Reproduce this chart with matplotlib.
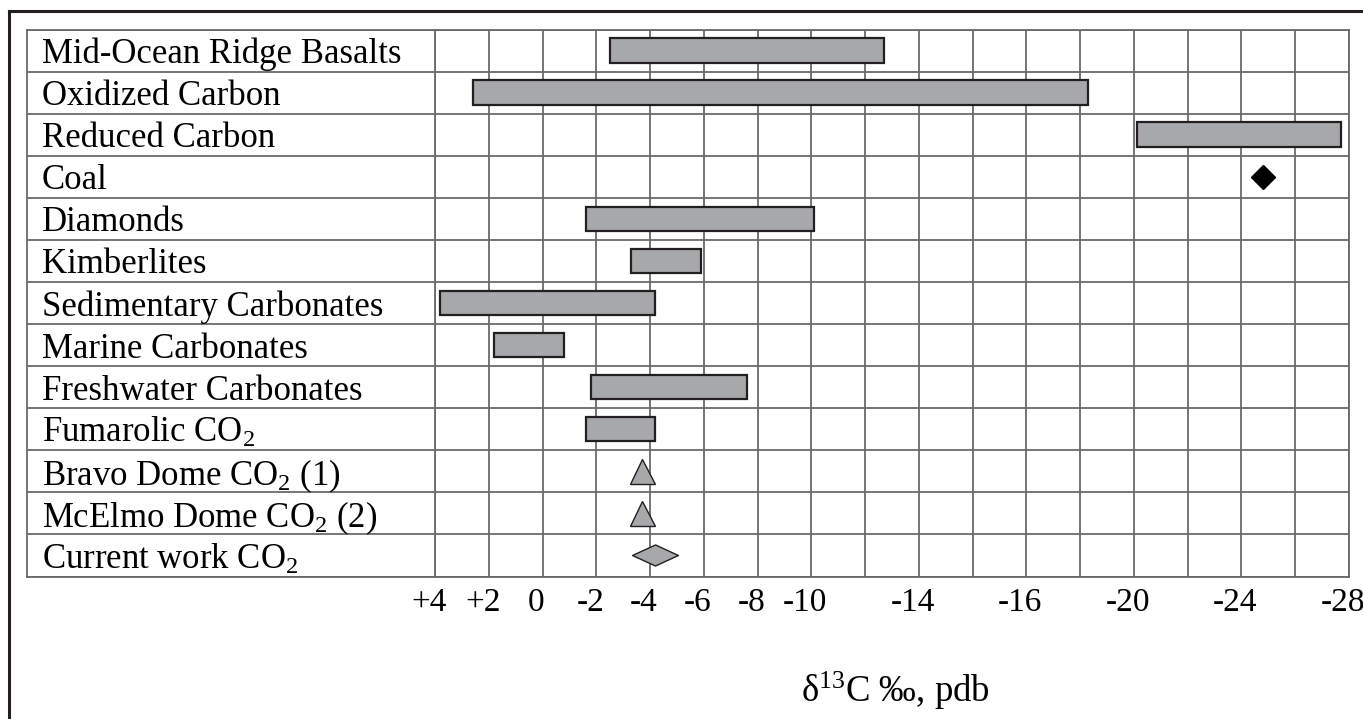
import numpy as np
import matplotlib
matplotlib.use("Agg")
import matplotlib.pyplot as plt
from matplotlib.lines import Line2D
from matplotlib.path import Path
import matplotlib.transforms as mtransforms

plt.rcParams['font.family'] = ['Liberation Serif', 'DejaVu Serif']
plt.rcParams['mathtext.fontset'] = 'custom'
plt.rcParams['mathtext.rm'] = 'Liberation Serif'

# ---------------- data ----------------
categories = [
    "Mid-Ocean Ridge Basalts",
    "Oxidized Carbon",
    "Reduced Carbon",
    "Coal",
    "Diamonds",
    "Kimberlites",
    "Sedimentary Carbonates",
    "Marine Carbonates",
    "Freshwater Carbonates",
    r"Fumarolic CO$\mathregular{_2}$",
    r"Bravo Dome CO$\mathregular{_2}$ (1)",
    r"McElmo Dome CO$\mathregular{_2}$ (2)",
    r"Current work CO$\mathregular{_2}$",
]
# ranges (delta13C, permil) ; nan = no range bar
range_start = [-2.5, 2.6, -20.1, np.nan, -1.6, -3.3, 3.8, 1.8, -1.8, -1.6, np.nan, np.nan, np.nan]
range_end = [-12.7, -18.3, -27.7, np.nan, -10.1, -5.9, -4.2, -0.8, -7.6, -4.2, np.nan, np.nan, np.nan]
coal_value = -24.8
bravo_value = -3.7
mcelmo_value = -3.7
current_value = -4.2

tick_values = [4, 2, 0, -2, -4, -6, -8, -10, -14, -16, -20, -24, -28]
tick_labels = ["+4", "+2", "0", "-2", "-4", "-6", "-8", "-10", "-14", "-16", "-20", "-24", "-28"]
tick_slots = [0, 1, 2, 3, 4, 5, 6, 7, 9, 11, 13, 15, 17]   # grid column where each label sits
n_columns = 17

# ---------------- piecewise scale (as printed on the original axis) ----------------
_xp = -np.array(tick_values, dtype=float)
_fp = np.array(tick_slots, dtype=float)


def _lin(x, xp, fp):
    x = np.asarray(x, dtype=float)
    y = np.interp(x, xp, fp)
    y = np.where(x < xp[0], fp[0] + (x - xp[0]) * (fp[1] - fp[0]) / (xp[1] - xp[0]), y)
    y = np.where(x > xp[-1], fp[-1] + (x - xp[-1]) * (fp[-1] - fp[-2]) / (xp[-1] - xp[-2]), y)
    return y


def fwd(v):
    return _lin(-np.asarray(v, dtype=float), _xp, _fp)


def inv(p):
    return -_lin(p, _fp, _xp)


# ---------------- figure ----------------
W, H = 1363, 719
fig = plt.figure(figsize=(W / 100, H / 100), dpi=100)

top_px, bot_px = 29.5, 576.5
lab_l, grid_l, grid_r = 27, 435, 1349
ax = fig.add_axes([grid_l / W, 1 - bot_px / H, (grid_r - grid_l) / W, (bot_px - top_px) / H])
axl = fig.add_axes([lab_l / W, 1 - bot_px / H, (grid_l - lab_l) / W, (bot_px - top_px) / H])

line_col = '#6a6a6a'
edge_col = '#231f20'
fill_col = '#a7a8ab'
fs_lab = 25
fs_tick = 24
fs_title = 26.5

ax.set_xscale('function', functions=(fwd, inv))
ax.set_xlim(tick_values[-1], tick_values[0])
n = len(categories)
rows = np.arange(n)
for a in (ax, axl):
    a.set_ylim(n - 0.5, -0.5)
    for s in a.spines.values():
        s.set_color(line_col)
        s.set_linewidth(1.3)
    for r in np.arange(n + 1) - 0.5:
        a.axhline(r, color=line_col, lw=1.3, zorder=1)

# vertical grid at every column boundary
for p in range(n_columns + 1):
    ax.axvline(float(inv(p)), color=line_col, lw=1.3, zorder=1)

ax.set_yticks([])
ax.set_xticks(tick_values)
ax.set_xticklabels(tick_labels, fontsize=fs_tick)
ax.tick_params(axis='x', length=0, pad=8)
shift = mtransforms.ScaledTranslation(-6 / 100, 0, fig.dpi_scale_trans)
for lbl in ax.get_xticklabels():
    lbl.set_transform(lbl.get_transform() + shift)

axl.set_xlim(0, 1)
axl.set_xticks([])
axl.set_yticks([])
for i, c in enumerate(categories):
    axl.text(15 / (grid_l - lab_l), i, c, fontsize=fs_lab, va='center_baseline', ha='left')

# range bars
starts = np.array(range_start)
ends = np.array(range_end)
m = ~np.isnan(starts)
ax.barh(rows[m], ends[m] - starts[m], left=starts[m], height=0.58,
        color=fill_col, edgecolor=edge_col, linewidth=1.6, zorder=3)

# point markers
ax.plot([coal_value], [3], marker='D', markersize=12.5, color='black', zorder=4, clip_on=False)
ax.plot([bravo_value, mcelmo_value], [10, 11], linestyle='none', marker='^', markersize=18,
        markerfacecolor=fill_col, markeredgecolor=edge_col, markeredgewidth=1.0, zorder=4)
wide_diamond = Path([(-1, 0), (0, 0.46), (1, 0), (0, -0.46), (-1, 0)],
                    [Path.MOVETO, Path.LINETO, Path.LINETO, Path.LINETO, Path.CLOSEPOLY])
ax.plot([current_value], [12], linestyle='none', marker=wide_diamond, markersize=33,
        markerfacecolor=fill_col, markeredgecolor=edge_col, markeredgewidth=1.0, zorder=4, clip_on=False)

# axis title
fig.text(895 / W, 1 - 691 / H, r"δ$\mathregular{^{13}}$C ‰, pdb", fontsize=fs_title, ha='center', va='center')

# outer frame (extends past the right / bottom edges of the picture)
fig.add_artist(Line2D([9 / W, 1.0], [1 - 11 / H, 1 - 11 / H], transform=fig.transFigure,
                      color=edge_col, lw=2.2))
fig.add_artist(Line2D([9 / W, 9 / W], [0.0, 1 - 11 / H], transform=fig.transFigure,
                      color=edge_col, lw=2.2))

fig.savefig("out.png", dpi=100)
